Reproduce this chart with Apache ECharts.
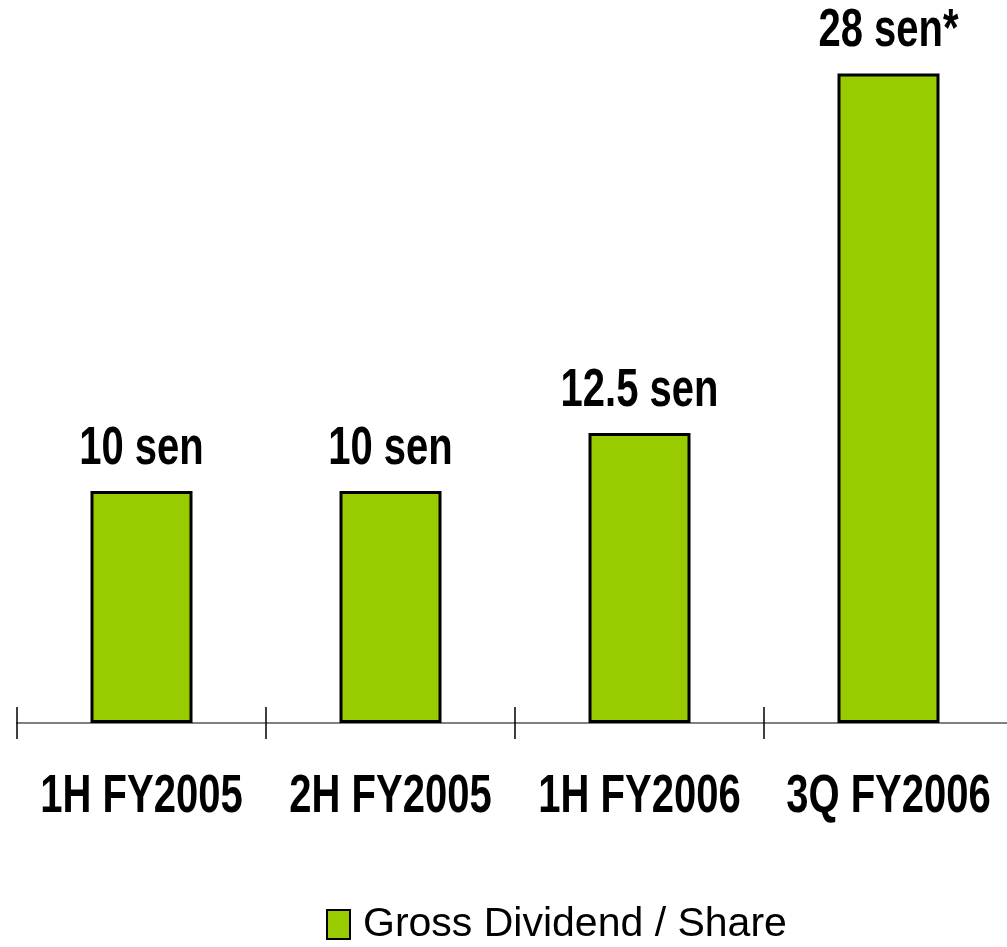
<!DOCTYPE html>
<html>
<head>
<meta charset="utf-8">
<script src="https://cdn.jsdelivr.net/npm/echarts@6/dist/echarts.min.js"></script>
<style>
  html, body { margin: 0; padding: 0; background: #fff; }
  #chart { width: 1007px; height: 947px; }
</style>
</head>
<body>
<div id="chart"></div>
<script>
// Gross dividend per share, by period (sen)
const categories = ['1H FY2005', '2H FY2005', '1H FY2006', '3Q FY2006'];
const dividends = [10, 10, 12.5, 28];
const valueLabels = ['10 sen', '10 sen', '12.5 sen', '28 sen*'];
const seriesName = 'Gross Dividend / Share';

const BAR_GREEN = '#99CC00';
const BOLD_FONT = 'bold 40px "Liberation Sans", Arial, sans-serif';
const TALL = 1.32;          // vertical stretch of the condensed-looking headings

const chart = echarts.init(document.getElementById('chart'));
chart.setOption({
  animation: false,
  backgroundColor: '#ffffff',
  grid: {
    left: 17, width: 996, top: 27, height: 696,
    containLabel: false, outerBoundsMode: 'none'
  },
  xAxis: [
    {
      type: 'category',
      data: categories,
      axisLine: { show: true, lineStyle: { color: '#808080', width: 2 } },
      axisTick: { show: true, length: 16, lineStyle: { color: '#000', width: 1.5 } },
      axisLabel: { show: false }
    },
    {
      // upper half of the crossing tick marks
      type: 'category',
      data: categories,
      position: 'bottom',
      axisLine: { show: false },
      axisTick: { show: true, inside: true, length: 16, lineStyle: { color: '#000', width: 1.5 } },
      axisLabel: { show: false }
    }
  ],
  yAxis: {
    type: 'value', min: 0, max: 30, show: false,
    splitLine: { show: false }
  },
  legend: {
    left: 321, top: 899,
    itemWidth: 23, itemHeight: 29,
    icon: 'rect',
    textStyle: {
      fontFamily: '"Liberation Sans", Arial, sans-serif',
      fontSize: 41, color: '#000', padding: [0, 0, 0, 8]
    },
    data: [{ name: seriesName, itemStyle: { color: BAR_GREEN, borderColor: '#000', borderWidth: 2 } }]
  },
  series: [{
    name: seriesName,
    type: 'bar',
    xAxisIndex: 0,
    data: dividends,
    barWidth: 102,
    itemStyle: { color: BAR_GREEN, borderColor: '#000', borderWidth: 3 },
    label: { show: false }
  }]
});

// Value labels above the bars and category names under the axis,
// placed through the chart's own coordinate conversion.
const texts = [];
categories.forEach((cat, i) => {
  const [x, yTop] = chart.convertToPixel({ seriesIndex: 0 }, [i, dividends[i]]);
  const [, yBase] = chart.convertToPixel({ seriesIndex: 0 }, [i, 0]);
  texts.push({
    type: 'text', x: x, y: yTop - 42, scaleY: TALL, silent: true,
    style: { text: valueLabels[i], font: BOLD_FONT, fill: '#000', align: 'center', verticalAlign: 'middle' }
  });
  texts.push({
    type: 'text', x: x, y: yBase + 74, scaleY: TALL, silent: true,
    style: { text: cat, font: BOLD_FONT, fill: '#000', align: 'center', verticalAlign: 'middle' }
  });
});
chart.setOption({ graphic: texts });
</script>
</body>
</html>
